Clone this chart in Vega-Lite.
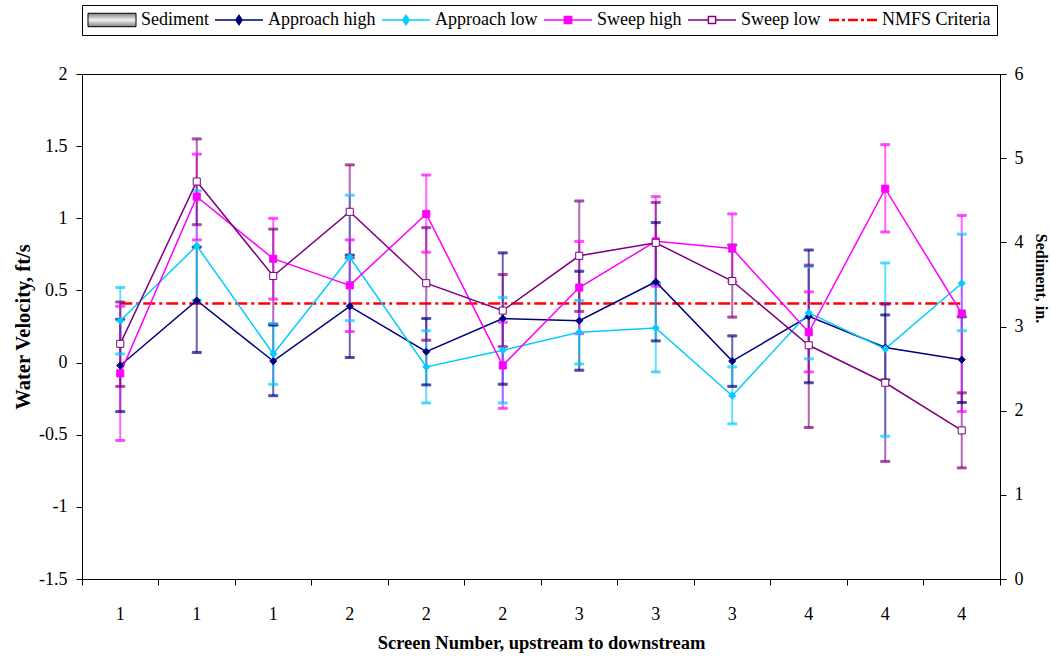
{
  "$schema": "https://vega.github.io/schema/vega-lite/v6.json",
  "autosize": {"type": "none"},
  "width": 918,
  "height": 505,
  "padding": {"left": 82, "top": 74, "right": 51, "bottom": 77},
  "background": "white",
  "config": {
    "view": {"stroke": "black", "strokeWidth": 1},
    "axis": {
      "domainColor": "black", "tickColor": "black", "labelColor": "black", "titleColor": "black",
      "labelFont": "Liberation Serif", "labelFontSize": 18,
      "titleFont": "Liberation Serif", "titleFontSize": 18.5, "titleFontWeight": "bold",
      "grid": false, "tickSize": 6, "domainWidth": 1, "tickWidth": 1
    },
    "legend": {
      "orient": "none", "legendX": 0, "legendY": -69, "direction": "horizontal", "columns": 6,
      "strokeColor": "black", "fillColor": "white", "padding": 6,
      "labelFont": "Liberation Serif", "labelFontSize": 18, "labelColor": "black",
      "symbolSize": 2304, "labelOffset": 5, "columnPadding": 3
    }
  },
  "datasets": {
    "d": [
      {"pos": 1, "series": "Sediment", "v": 0}, {"pos": 2, "series": "Sediment", "v": 0}, {"pos": 3, "series": "Sediment", "v": 0},
      {"pos": 4, "series": "Sediment", "v": 0}, {"pos": 5, "series": "Sediment", "v": 0}, {"pos": 6, "series": "Sediment", "v": 0},
      {"pos": 7, "series": "Sediment", "v": 0}, {"pos": 8, "series": "Sediment", "v": 0}, {"pos": 9, "series": "Sediment", "v": 0},
      {"pos": 10, "series": "Sediment", "v": 0}, {"pos": 11, "series": "Sediment", "v": 0}, {"pos": 12, "series": "Sediment", "v": 0},

      {"pos": 1, "series": "Approach high", "v": -0.02, "lo": -0.34, "hi": 0.30},
      {"pos": 2, "series": "Approach high", "v": 0.43, "lo": 0.07, "hi": 0.80},
      {"pos": 3, "series": "Approach high", "v": 0.01, "lo": -0.23, "hi": 0.26},
      {"pos": 4, "series": "Approach high", "v": 0.39, "lo": 0.035, "hi": 0.745},
      {"pos": 5, "series": "Approach high", "v": 0.075, "lo": -0.155, "hi": 0.305},
      {"pos": 6, "series": "Approach high", "v": 0.305, "lo": -0.15, "hi": 0.76},
      {"pos": 7, "series": "Approach high", "v": 0.29, "lo": -0.053, "hi": 0.633},
      {"pos": 8, "series": "Approach high", "v": 0.56, "lo": 0.15, "hi": 0.97},
      {"pos": 9, "series": "Approach high", "v": 0.01, "lo": -0.165, "hi": 0.185},
      {"pos": 10, "series": "Approach high", "v": 0.32, "lo": -0.14, "hi": 0.78},
      {"pos": 11, "series": "Approach high", "v": 0.105, "lo": -0.12, "hi": 0.33},
      {"pos": 12, "series": "Approach high", "v": 0.02, "lo": -0.277, "hi": 0.317},

      {"pos": 1, "series": "Approach low", "v": 0.29, "lo": 0.06, "hi": 0.52},
      {"pos": 2, "series": "Approach low", "v": 0.81, "lo": 0.43, "hi": 1.19},
      {"pos": 3, "series": "Approach low", "v": 0.06, "lo": -0.15, "hi": 0.27},
      {"pos": 4, "series": "Approach low", "v": 0.73, "lo": 0.29, "hi": 1.16},
      {"pos": 5, "series": "Approach low", "v": -0.03, "lo": -0.28, "hi": 0.22},
      {"pos": 6, "series": "Approach low", "v": 0.085, "lo": -0.28, "hi": 0.45},
      {"pos": 7, "series": "Approach low", "v": 0.21, "lo": -0.01, "hi": 0.43},
      {"pos": 8, "series": "Approach low", "v": 0.24, "lo": -0.065, "hi": 0.545},
      {"pos": 9, "series": "Approach low", "v": -0.23, "lo": -0.425, "hi": -0.03},
      {"pos": 10, "series": "Approach low", "v": 0.345, "lo": 0.025, "hi": 0.665},
      {"pos": 11, "series": "Approach low", "v": 0.095, "lo": -0.51, "hi": 0.69},
      {"pos": 12, "series": "Approach low", "v": 0.55, "lo": 0.22, "hi": 0.89},

      {"pos": 1, "series": "Sweep high", "v": -0.075, "lo": -0.54, "hi": 0.39},
      {"pos": 2, "series": "Sweep high", "v": 1.15, "lo": 0.85, "hi": 1.445},
      {"pos": 3, "series": "Sweep high", "v": 0.72, "lo": 0.44, "hi": 1.0},
      {"pos": 4, "series": "Sweep high", "v": 0.535, "lo": 0.215, "hi": 0.85},
      {"pos": 5, "series": "Sweep high", "v": 1.03, "lo": 0.765, "hi": 1.30},
      {"pos": 6, "series": "Sweep high", "v": -0.02, "lo": -0.317, "hi": 0.28},
      {"pos": 7, "series": "Sweep high", "v": 0.52, "lo": 0.2, "hi": 0.84},
      {"pos": 8, "series": "Sweep high", "v": 0.84, "lo": 0.53, "hi": 1.15},
      {"pos": 9, "series": "Sweep high", "v": 0.79, "lo": 0.56, "hi": 1.03},
      {"pos": 10, "series": "Sweep high", "v": 0.21, "lo": -0.065, "hi": 0.49},
      {"pos": 11, "series": "Sweep high", "v": 1.205, "lo": 0.905, "hi": 1.51},
      {"pos": 12, "series": "Sweep high", "v": 0.34, "lo": -0.34, "hi": 1.02},

      {"pos": 1, "series": "Sweep low", "v": 0.13, "lo": -0.165, "hi": 0.42},
      {"pos": 2, "series": "Sweep low", "v": 1.255, "lo": 0.955, "hi": 1.55},
      {"pos": 3, "series": "Sweep low", "v": 0.60, "lo": 0.265, "hi": 0.925},
      {"pos": 4, "series": "Sweep low", "v": 1.045, "lo": 0.725, "hi": 1.37},
      {"pos": 5, "series": "Sweep low", "v": 0.55, "lo": 0.155, "hi": 0.935},
      {"pos": 6, "series": "Sweep low", "v": 0.36, "lo": 0.11, "hi": 0.61},
      {"pos": 7, "series": "Sweep low", "v": 0.74, "lo": 0.355, "hi": 1.12},
      {"pos": 8, "series": "Sweep low", "v": 0.83, "lo": 0.55, "hi": 1.11},
      {"pos": 9, "series": "Sweep low", "v": 0.565, "lo": 0.315, "hi": 0.815},
      {"pos": 10, "series": "Sweep low", "v": 0.12, "lo": -0.45, "hi": 0.675},
      {"pos": 11, "series": "Sweep low", "v": -0.14, "lo": -0.685, "hi": 0.405},
      {"pos": 12, "series": "Sweep low", "v": -0.47, "lo": -0.73, "hi": -0.21},

      {"pos": 1, "series": "NMFS Criteria", "v": 0.41}, {"pos": 2, "series": "NMFS Criteria", "v": 0.41},
      {"pos": 3, "series": "NMFS Criteria", "v": 0.41}, {"pos": 4, "series": "NMFS Criteria", "v": 0.41},
      {"pos": 5, "series": "NMFS Criteria", "v": 0.41}, {"pos": 6, "series": "NMFS Criteria", "v": 0.41},
      {"pos": 7, "series": "NMFS Criteria", "v": 0.41}, {"pos": 8, "series": "NMFS Criteria", "v": 0.41},
      {"pos": 9, "series": "NMFS Criteria", "v": 0.41}, {"pos": 10, "series": "NMFS Criteria", "v": 0.41},
      {"pos": 11, "series": "NMFS Criteria", "v": 0.41}, {"pos": 12, "series": "NMFS Criteria", "v": 0.41}
    ]
  },
  "data": {"name": "d"},
  "encoding": {
    "x": {
      "field": "pos", "type": "ordinal",
      "scale": {"type": "band", "domain": [1,2,3,4,5,6,7,8,9,10,11,12], "paddingInner": 0, "paddingOuter": 0},
      "axis": {
        "title": "Screen Number, upstream to downstream", "labelAngle": 0,
        "labelExpr": "datum.value > 0 ? '' + ceil(datum.value / 3) : ''", "bandPosition": 1, "tickExtra": true,
        "labelPadding": 20, "titlePadding": 10
      }
    }
  },
  "layer": [
    {
      "transform": [{"filter": "datum.series === 'Sediment'"}],
      "mark": {"type": "bar", "fill": "#999999"},
      "encoding": {
        "y": {
          "field": "v", "type": "quantitative",
          "scale": {"domain": [0, 6], "nice": false, "zero": false},
          "axis": {"orient": "right", "title": "Sediment, in.", "values": [0,1,2,3,4,5,6], "labelPadding": 8, "titlePadding": 9, "titleY": 204, "titleFontSize": 16}
        }
      }
    },
    {
      "layer": [
        {
          "transform": [{"filter": "datum.series === 'NMFS Criteria'"}],
          "mark": {"type": "line", "strokeWidth": 2.5, "strokeDash": [12, 4, 3, 4]},
          "encoding": {
            "y": {"field": "v", "type": "quantitative", "scale": {"domain": [-1.5, 2], "nice": false, "zero": false},
              "axis": {"orient": "left", "title": "Water Velocity, ft/s", "values": [-1.5,-1,-0.5,0,0.5,1,1.5,2], "labelExpr": "'' + datum.value", "labelPadding": 9, "titlePadding": 5, "titleFontSize": 20.5}},
            "stroke": {"field": "series", "type": "nominal",
              "scale": {"domain": ["Sediment","Approach high","Approach low","Sweep high","Sweep low","NMFS Criteria"], "range": ["#000000","#000080","#00CCFF","#FF00FF","#800080","#FF0000"]},
              "legend": {"title": null, "labelFont": "Liberation Serif",
                "encode": {
                  "symbols": {"update": {
                    "x": {"value": 24},
                    "shape": {"signal": "datum.value === 'Sediment' ? 'M-1,-0.28H1V0.28H-1Z' : datum.value === 'NMFS Criteria' ? 'M-1,0H-0.583M-0.458,0H-0.333M-0.208,0H0.208M0.333,0H0.458M0.583,0H1' : datum.value === 'Sweep low' ? 'M-1,0H-0.15M0.15,0H1M-0.15,-0.15H0.15V0.15H-0.15Z' : datum.value === 'Sweep high' ? 'M-1,0H1M-0.15,-0.15H0.15V0.15H-0.15Z' : 'M-1,0H1M0,-0.19L0.13,0L0,0.19L-0.13,0Z'"},
                    "fill": {"signal": "datum.value === 'Sediment' ? {gradient: 'linear', x1: 0, y1: 0, x2: 0, y2: 1, stops: [{offset: 0, color: '#808080'}, {offset: 0.5, color: '#f4f4f4'}, {offset: 1, color: '#808080'}]} : datum.value === 'Approach high' ? '#000080' : datum.value === 'Approach low' ? '#00CCFF' : datum.value === 'Sweep high' ? '#FF00FF' : datum.value === 'Sweep low' ? '#FFFFFF' : 'transparent'"},
                    "stroke": {"signal": "datum.value === 'Sediment' ? '#000000' : datum.value === 'Approach high' ? '#000080' : datum.value === 'Approach low' ? '#00CCFF' : datum.value === 'Sweep high' ? '#FF00FF' : datum.value === 'Sweep low' ? '#800080' : '#FF0000'"},
                    "strokeWidth": {"signal": "datum.value === 'NMFS Criteria' ? 2.5 : datum.value === 'Sediment' ? 1 : 1.5"},
                    "opacity": {"value": 1}
                  }},
                  "labels": {"update": {"x": {"value": 53}}}
                }
              }
            }
          }
        },
        {
          "transform": [{"filter": "isValid(datum.lo)"}],
          "mark": {"type": "rule", "strokeWidth": 2, "opacity": 0.6},
          "encoding": {
            "y": {"field": "lo", "type": "quantitative", "scale": {"domain": [-1.5, 2], "nice": false, "zero": false},
              "axis": {"orient": "left", "title": "Water Velocity, ft/s", "values": [-1.5,-1,-0.5,0,0.5,1,1.5,2], "labelExpr": "'' + datum.value", "labelPadding": 9, "titlePadding": 5, "titleFontSize": 20.5}},
            "y2": {"field": "hi"},
            "stroke": {"field": "series", "type": "nominal"}
          }
        },
        {
          "transform": [{"filter": "isValid(datum.lo)"}],
          "mark": {"type": "tick", "thickness": 2, "size": 9, "opacity": 0.7},
          "encoding": {
            "y": {"field": "lo", "type": "quantitative", "scale": {"domain": [-1.5, 2], "nice": false, "zero": false},
              "axis": {"orient": "left", "title": "Water Velocity, ft/s", "values": [-1.5,-1,-0.5,0,0.5,1,1.5,2], "labelExpr": "'' + datum.value", "labelPadding": 9, "titlePadding": 5, "titleFontSize": 20.5}},
            "stroke": {"field": "series", "type": "nominal"},
            "color": {"field": "series", "type": "nominal", "legend": null, "scale": {"domain": ["Approach high","Approach low","Sweep high","Sweep low"], "range": ["#000080","#00CCFF","#FF00FF","#800080"]}}
          }
        },
        {
          "transform": [{"filter": "isValid(datum.hi)"}],
          "mark": {"type": "tick", "thickness": 2, "size": 9, "opacity": 0.7},
          "encoding": {
            "y": {"field": "hi", "type": "quantitative", "scale": {"domain": [-1.5, 2], "nice": false, "zero": false},
              "axis": {"orient": "left", "title": "Water Velocity, ft/s", "values": [-1.5,-1,-0.5,0,0.5,1,1.5,2], "labelExpr": "'' + datum.value", "labelPadding": 9, "titlePadding": 5, "titleFontSize": 20.5}},
            "stroke": {"field": "series", "type": "nominal"},
            "color": {"field": "series", "type": "nominal", "legend": null}
          }
        },
        {
          "transform": [{"filter": "isValid(datum.lo)"}],
          "mark": {"type": "line", "strokeWidth": 1.5},
          "encoding": {
            "y": {"field": "v", "type": "quantitative", "scale": {"domain": [-1.5, 2], "nice": false, "zero": false},
              "axis": {"orient": "left", "title": "Water Velocity, ft/s", "values": [-1.5,-1,-0.5,0,0.5,1,1.5,2], "labelExpr": "'' + datum.value", "labelPadding": 9, "titlePadding": 5, "titleFontSize": 20.5}},
            "stroke": {"field": "series", "type": "nominal"}
          }
        },
        {
          "transform": [{"filter": "isValid(datum.lo)"}],
          "mark": {"type": "point", "filled": true, "size": 50, "strokeWidth": 1, "opacity": 1},
          "encoding": {
            "y": {"field": "v", "type": "quantitative", "scale": {"domain": [-1.5, 2], "nice": false, "zero": false},
              "axis": {"orient": "left", "title": "Water Velocity, ft/s", "values": [-1.5,-1,-0.5,0,0.5,1,1.5,2], "labelExpr": "'' + datum.value", "labelPadding": 9, "titlePadding": 5, "titleFontSize": 20.5}},
            "stroke": {"field": "series", "type": "nominal"},
            "fill": {"field": "series", "type": "nominal", "legend": null, "scale": {"domain": ["Approach high","Approach low","Sweep high","Sweep low"], "range": ["#000080","#00CCFF","#FF00FF","#FFFFFF"]}},
            "shape": {"field": "series", "type": "nominal", "legend": null, "scale": {"domain": ["Approach high","Approach low","Sweep high","Sweep low"], "range": ["diamond","diamond","square","square"]}}
          }
        }
      ]
    }
  ],
  "resolve": {"scale": {"y": "independent"}}
}
